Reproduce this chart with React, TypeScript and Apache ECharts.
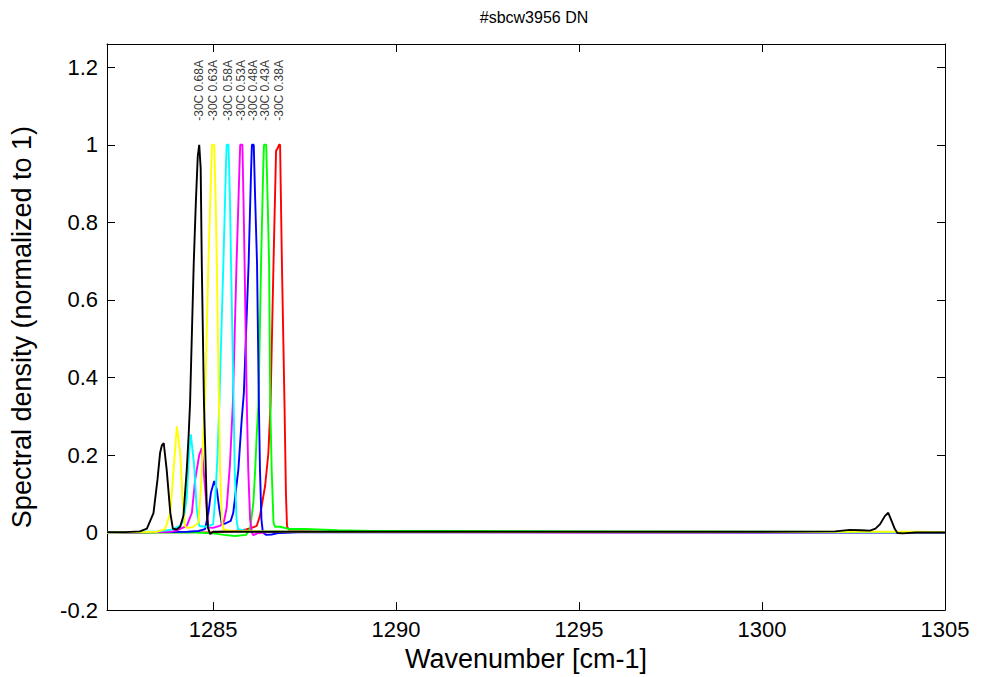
import { useEffect, useRef } from "react";
import * as echarts from "echarts";

// Axis ranges and tick values
const xRange = [1282.1, 1305];
const yRange = [-0.2, 1.26];
const xTickValues = [1285, 1290, 1295, 1300, 1305];
const yTickValues = [-0.2, 0, 0.2, 0.4, 0.6, 0.8, 1, 1.2];

// Runs: label, colour and the position of the normalised main peak
const runLabels = [
  "-30C 0.68A",
  "-30C 0.63A",
  "-30C 0.58A",
  "-30C 0.53A",
  "-30C 0.48A",
  "-30C 0.43A",
  "-30C 0.38A",
];
const runColors = ["#000000", "#ffff00", "#00ffff", "#ff00ff", "#0000ff", "#00ff00", "#ff0000"];
const peakPositions = [1284.62, 1285.0, 1285.4, 1285.77, 1286.09, 1286.42, 1286.79];
const labelLevel = 1.062;

// Spectra: [wavenumber, normalised spectral density]
const spectrum068: [number, number][] = [
  [1282.1, 0.001], [1282.6, 0.001], [1283.0, 0.003], [1283.19, 0.01], [1283.37, 0.05],
  [1283.48, 0.137], [1283.55, 0.205], [1283.6, 0.225], [1283.65, 0.231], [1283.73, 0.163],
  [1283.83, 0.051], [1283.9, 0.01], [1284.0, 0.008], [1284.1, 0.015], [1284.19, 0.044],
  [1284.28, 0.163], [1284.33, 0.249], [1284.37, 0.334], [1284.47, 0.694], [1284.53, 0.857],
  [1284.58, 0.97], [1284.62, 1.0], [1284.66, 0.94], [1284.69, 0.694], [1284.75, 0.334],
  [1284.8, 0.163], [1284.83, 0.05], [1284.86, 0.012], [1284.92, -0.004], [1285.0, 0.002],
  [1286.0, 0.002], [1287.0, 0.002], [1290.0, 0.002], [1295.0, 0.002], [1300.0, 0.002],
  [1302.0, 0.003], [1302.4, 0.007], [1302.7, 0.006], [1302.95, 0.005], [1303.1, 0.01],
  [1303.22, 0.021], [1303.36, 0.043], [1303.45, 0.051], [1303.54, 0.03], [1303.63, 0.009],
  [1303.7, -0.001], [1303.85, -0.002], [1304.2, 0.0], [1305.0, 0.0],
];
const spectrum063: [number, number][] = [
  [1282.1, 0.0], [1283.0, 0.001], [1283.46, 0.002], [1283.69, 0.009], [1283.83, 0.05],
  [1283.92, 0.163], [1284.01, 0.274], [1284.1, 0.205], [1284.17, 0.077], [1284.23, 0.017],
  [1284.3, 0.012], [1284.45, 0.014], [1284.6, 0.026], [1284.67, 0.12], [1284.73, 0.249],
  [1284.78, 0.334], [1284.87, 0.694], [1284.95, 0.943], [1284.97, 1.0], [1285.03, 1.0],
  [1285.07, 0.857], [1285.1, 0.694], [1285.16, 0.334], [1285.19, 0.163], [1285.24, 0.034],
  [1285.28, 0.009], [1285.5, 0.004], [1286.5, 0.003], [1288.0, 0.002], [1292.0, 0.001],
  [1297.0, 0.001], [1300.0, 0.001], [1302.5, 0.002], [1303.3, 0.002], [1304.3, 0.002],
  [1305.0, 0.001],
];
const spectrum058: [number, number][] = [
  [1282.1, 0.0], [1283.5, 0.003], [1283.9, 0.008], [1284.1, 0.018], [1284.19, 0.03],
  [1284.28, 0.09], [1284.34, 0.2], [1284.39, 0.253], [1284.48, 0.176], [1284.55, 0.064],
  [1284.62, 0.017], [1284.8, 0.015], [1285.0, 0.021], [1285.06, 0.09], [1285.12, 0.2],
  [1285.17, 0.334], [1285.28, 0.694], [1285.35, 0.943], [1285.37, 1.0], [1285.42, 1.0],
  [1285.46, 0.857], [1285.49, 0.694], [1285.56, 0.334], [1285.59, 0.163], [1285.64, 0.034],
  [1285.68, 0.009], [1286.0, 0.003], [1288.0, 0.002], [1295.0, 0.001], [1305.0, 0.0],
];
const spectrum053: [number, number][] = [
  [1282.1, 0.0], [1283.8, 0.002], [1284.0, 0.005], [1284.28, 0.017], [1284.42, 0.051],
  [1284.51, 0.137], [1284.62, 0.2], [1284.69, 0.218], [1284.78, 0.116], [1284.87, 0.013],
  [1285.0, 0.012], [1285.2, 0.018], [1285.3, 0.03], [1285.37, 0.064], [1285.46, 0.176],
  [1285.54, 0.334], [1285.64, 0.694], [1285.72, 0.943], [1285.74, 1.0], [1285.8, 1.0],
  [1285.83, 0.857], [1285.86, 0.694], [1285.92, 0.334], [1285.96, 0.163], [1286.01, 0.034],
  [1286.06, 0.0], [1286.1, -0.007], [1286.2, -0.002], [1286.5, 0.001], [1288.0, 0.001],
  [1305.0, 0.0],
];
const spectrum048: [number, number][] = [
  [1282.1, 0.0], [1284.3, 0.002], [1284.6, 0.004], [1284.78, 0.009], [1284.87, 0.05],
  [1284.94, 0.103], [1285.03, 0.133], [1285.1, 0.111], [1285.17, 0.06], [1285.24, 0.021],
  [1285.35, 0.024], [1285.48, 0.03], [1285.55, 0.051], [1285.69, 0.163], [1285.78, 0.29],
  [1285.84, 0.36], [1285.97, 0.694], [1286.04, 0.943], [1286.06, 1.0], [1286.11, 1.0],
  [1286.15, 0.857], [1286.2, 0.694], [1286.25, 0.334], [1286.28, 0.163], [1286.32, 0.034],
  [1286.36, 0.0], [1286.45, -0.006], [1286.6, -0.005], [1286.8, -0.001], [1287.5, 0.001],
  [1305.0, 0.0],
];
const spectrum043: [number, number][] = [
  [1282.1, 0.0], [1284.5, 0.0], [1285.0, -0.002], [1285.3, -0.006], [1285.6, -0.009],
  [1285.9, -0.006], [1286.01, 0.009], [1286.1, 0.077], [1286.15, 0.163], [1286.19, 0.249],
  [1286.24, 0.334], [1286.31, 0.694], [1286.37, 0.943], [1286.39, 1.0], [1286.45, 1.0],
  [1286.49, 0.857], [1286.53, 0.694], [1286.56, 0.334], [1286.6, 0.163], [1286.65, 0.026],
  [1286.69, 0.015], [1286.83, 0.015], [1287.1, 0.009], [1287.5, 0.009], [1288.4, 0.006],
  [1289.3, 0.004], [1291.1, 0.004], [1295.0, 0.003], [1300.0, 0.002], [1305.0, 0.001],
];
const spectrum038: [number, number][] = [
  [1282.1, 0.0], [1285.0, 0.001], [1285.6, 0.004], [1285.9, 0.008], [1286.05, 0.012],
  [1286.19, 0.017], [1286.28, 0.043], [1286.42, 0.12], [1286.51, 0.205], [1286.57, 0.334],
  [1286.65, 0.694], [1286.72, 0.985], [1286.76, 0.99], [1286.8, 1.0], [1286.83, 1.0],
  [1286.88, 0.694], [1286.95, 0.334], [1286.99, 0.1], [1287.02, 0.015], [1287.1, 0.004],
  [1288.0, 0.002], [1305.0, 0.0],
];

const spectra = [spectrum068, spectrum063, spectrum058, spectrum053, spectrum048, spectrum043, spectrum038];

const FONT = "'Liberation Sans', Arial, Helvetica, sans-serif";

const fmtNumber = (v: number) => String(Number(v.toFixed(2)));

export default function App() {
  const ref = useRef<HTMLDivElement>(null);

  useEffect(() => {
    if (!ref.current) return;
    const chart = echarts.init(ref.current, undefined, { renderer: "svg" });

    const axisLine = { show: true, onZero: false, lineStyle: { color: "#000", width: 1 } };
    const tickStyle = { color: "#000", width: 1 };

    // Draw the lowest current last so the first run ends up on top
    const lineSeries = spectra
      .map((data, i) => ({
        name: runLabels[i],
        type: "line" as const,
        data,
        showSymbol: false,
        symbol: "none",
        lineStyle: { color: runColors[i], width: 1.9 },
        itemStyle: { color: runColors[i] },
        clip: true,
        silent: true,
      }))
      .reverse();

    // Run captions written vertically above each main peak
    const labelSeries = {
      type: "scatter" as const,
      data: runLabels.map((t, i) => [peakPositions[i], labelLevel, t]),
      symbolSize: 1,
      itemStyle: { color: "rgba(0,0,0,0)" },
      silent: true,
      z: 5,
      label: {
        show: true,
        position: "inside",
        rotate: 90,
        align: "left",
        verticalAlign: "middle",
        fontSize: 12,
        fontFamily: FONT,
        color: "#000",
        formatter: (p: any) => p.data[2],
      },
    };

    chart.setOption({
      animation: false,
      backgroundColor: "#fff",
      title: {
        text: "#sbcw3956 DN",
        left: 529,
        top: 4,
        textAlign: "center",
        textStyle: { fontFamily: FONT, fontSize: 16, fontWeight: "normal", color: "#000" },
      },
      grid: { left: 107, right: 39, top: 44, bottom: 64, containLabel: false },
      xAxis: [
        {
          type: "value",
          min: xRange[0],
          max: xRange[1],
          position: "bottom",
          axisLine,
          axisTick: { show: true, inside: true, length: 8, customValues: xTickValues, lineStyle: tickStyle },
          axisLabel: {
            customValues: xTickValues,
            fontSize: 22,
            fontFamily: FONT,
            color: "#000",
            margin: 8,
            formatter: (v: number) => fmtNumber(v),
          },
          splitLine: { show: false },
          name: "Wavenumber [cm-1]",
          nameLocation: "middle",
          nameGap: 28,
          nameTextStyle: { fontFamily: FONT, fontSize: 27, color: "#000" },
        },
        {
          type: "value",
          min: xRange[0],
          max: xRange[1],
          position: "top",
          axisLine,
          axisTick: { show: true, inside: true, length: 8, customValues: xTickValues, lineStyle: tickStyle },
          axisLabel: { show: false },
          splitLine: { show: false },
        },
      ],
      yAxis: [
        {
          type: "value",
          min: yRange[0],
          max: yRange[1],
          position: "left",
          axisLine,
          axisTick: { show: true, inside: true, length: 8, customValues: yTickValues, lineStyle: tickStyle },
          axisLabel: {
            customValues: yTickValues,
            fontSize: 22,
            fontFamily: FONT,
            color: "#000",
            margin: 9,
            formatter: (v: number) => fmtNumber(v),
          },
          splitLine: { show: false },
          name: "Spectral density (normalized to 1)",
          nameLocation: "middle",
          nameGap: 72,
          nameTextStyle: { fontFamily: FONT, fontSize: 27, color: "#000" },
        },
        {
          type: "value",
          min: yRange[0],
          max: yRange[1],
          position: "right",
          axisLine,
          axisTick: { show: true, inside: true, length: 8, customValues: yTickValues, lineStyle: tickStyle },
          axisLabel: { show: false },
          splitLine: { show: false },
        },
      ],
      series: [...lineSeries, labelSeries],
    });

    return () => chart.dispose();
  }, []);

  return (
    <div
      ref={ref}
      style={{ position: "absolute", left: 0, top: 0, width: 984, height: 677, background: "#fff" }}
    />
  );
}
